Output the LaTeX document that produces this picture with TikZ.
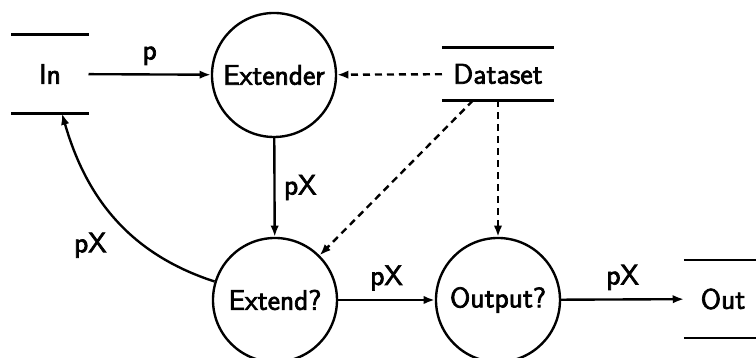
\documentclass[tikz,border=0pt]{standalone}
\usepackage{fontspec}
\setsansfont[FakeBold=2.5]{Latin Modern Sans}
\usetikzlibrary{arrows.meta}
\begin{document}
\begin{tikzpicture}[x=0.4pt,y=0.4pt,
    >={Latex[length=4.5pt,width=3.4pt]},
    every node/.style={font=\fontsize{11.3}{13}\sffamily},
    line/.style={line width=0.95pt},
    proc/.style={circle,draw,line,minimum size=49.6pt,inner sep=0pt},
    store/.style={append after command={
        (\tikzlastnode.north west) edge[line,-] (\tikzlastnode.north east)
        (\tikzlastnode.south west) edge[line,-] (\tikzlastnode.south east)}}]

  \useasboundingbox (0,0) rectangle (756,-358);

  \begin{scope}[every node/.append style={proc}]
    \node (extender) at (274,-75)  {Extender};
    \node (extend)   at (275,-300) {Extend?};
    \node (output)   at (498,-300) {Output?};
  \end{scope}

  \begin{scope}[every node/.append style={store}]
    \node[minimum width=30.4pt, minimum height=31.2pt] (in)   at (50,-74)   {In};
    \node[minimum width=44.4pt, minimum height=20.8pt] (data) at (498,-74)  {Dataset};
    \node[minimum width=30.8pt, minimum height=30.8pt] (out)  at (723,-299) {Out};
  \end{scope}

  \begin{scope}[every edge/.style={draw,line,->}]
    \path (in)       edge node[above] {p}  (extender);
    \path (extender) edge node[right] {pX} (extend);
    \path (extend)   edge node[above] {pX} (output);
    \path (output)   edge node[above] {pX} (out);
    \path (extend.163) edge[out=162,in=-74] node[pos=0.33,left=11pt] {pX} ([xshift=4.8pt]in.south);
  \end{scope}

  \begin{scope}[every edge/.style={draw,line,->,dash pattern=on 2.8pt off 2pt}]
    \path (data) edge (extender);
    \path ([xshift=-10pt]data.south) edge (extend.45);
    \path (data) edge (output);
  \end{scope}

\end{tikzpicture}
\end{document}
